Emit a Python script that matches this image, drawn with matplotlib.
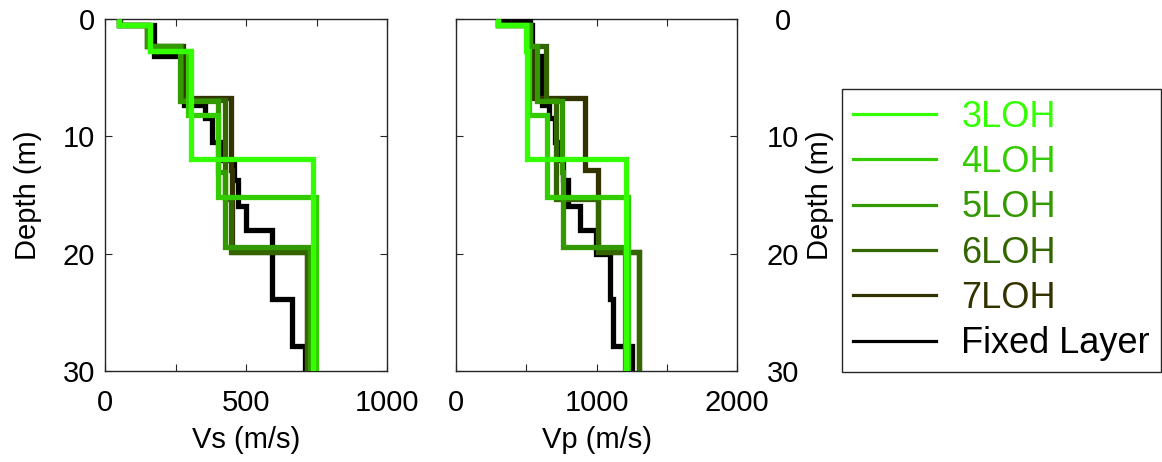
import matplotlib
matplotlib.use('Agg')
import matplotlib.pyplot as plt
from matplotlib.lines import Line2D

plt.rcParams['font.family'] = ['Liberation Sans', 'DejaVu Sans']

MAX_DEPTH = 30

names = ['3LOH', '4LOH', '5LOH', '6LOH', '7LOH', 'Fixed Layer']
colors = ['#33FF00', '#33CC00', '#339900', '#336600', '#333300', '#000000']

# interface depths (m) and layer velocities (m/s), top to bottom
z_3loh = [0.45, 2.7, 11.9]
vs_3loh = [50, 160, 306, 737]
vp_3loh = [300, 500, 505, 1207]

z_4loh = [0.45, 2.7, 8.15, 15.2]
vs_4loh = [50, 158, 293, 400, 748]
vp_4loh = [300, 505, 520, 651, 1222]

z_5loh = [0.45, 2.25, 7.0, 13.0, 19.4]
vs_5loh = [50, 150, 265, 402, 427, 728]
vp_5loh = [300, 525, 580, 755, 760, 1200]

z_6loh = [0.45, 2.25, 6.9, 15.3, 19.85]
vs_6loh = [50, 150, 270, 425, 447, 715]
vp_6loh = [300, 530, 639, 711, 1013, 1300]

z_7loh = [0.45, 2.25, 6.75, 12.9, 19.9]
vs_7loh = [50, 150, 275, 447, 452, 715]
vp_7loh = [300, 530, 545, 915, 1013, 1305]

z_fixed = [0.12, 0.45, 3.1, 7.3, 8.4, 10.5, 12.0, 13.7, 15.9, 18.0, 20.0, 23.9, 27.9]
vs_fixed = [50, 52, 175, 280, 355, 380, 420, 456, 473, 500, 591, 593, 662, 709]
vp_fixed = [327, 530, 540, 612, 662, 708, 740, 765, 795, 885, 995, 1098, 1120, 1250]

z_all = [z_3loh, z_4loh, z_5loh, z_6loh, z_7loh, z_fixed]
vs_all = [vs_3loh, vs_4loh, vs_5loh, vs_6loh, vs_7loh, vs_fixed]
vp_all = [vp_3loh, vp_4loh, vp_5loh, vp_6loh, vp_7loh, vp_fixed]

W, H = 1162, 462
fig = plt.figure(figsize=(W / 100, H / 100), dpi=100)
fig.patch.set_facecolor('white')

axL = fig.add_axes([105 / W, 1 - 370.7 / H, 282 / W, 351.4 / H])
axR = fig.add_axes([456 / W, 1 - 370.7 / H, 281 / W, 351.4 / H])

LW = 3.8
for ax, vals in ((axL, vs_all), (axR, vp_all)):
    # draw fixed layer first, 3LOH last (on top)
    for i in reversed(range(len(names))):
        edges = [0] + z_all[i] + [MAX_DEPTH]
        ax.stairs(vals[i], edges, orientation='horizontal', baseline=None,
                  edgecolor=colors[i], linewidth=LW, joinstyle='miter',
                  zorder=3 + (len(names) - i))
    ax.set_ylim(MAX_DEPTH, 0)
    for sp in ax.spines.values():
        sp.set_color('#262626')
        sp.set_linewidth(1.0)
    ax.tick_params(direction='in', top=True, right=True, left=True, bottom=True,
                   length=5, width=0.8, color='#262626', labelsize=21)
    ax.set_yticks([0, 10, 20, 30])

axL.set_xlim(0, 1000)
axL.set_xticks([0, 250, 500, 750, 1000])
axL.set_xticklabels(['0', '', '500', '', '1000'])
axL.tick_params(axis='x', pad=13.5)
axL.tick_params(axis='y', pad=7)
axL.set_yticklabels(['0', '10', '20', '30'])
axL.set_xlabel('Vs (m/s)', fontsize=21)
axL.set_ylabel('Depth (m)', fontsize=21)
axL.xaxis.set_label_coords(0.5, -0.197)
axL.xaxis.label.set_va('center')
axL.yaxis.set_label_coords(-0.273, 0.5)
axL.yaxis.label.set_va('center')

axR.set_xlim(0, 2000)
axR.set_xticks([0, 500, 1000, 1500, 2000])
axR.set_xticklabels(['0', '', '1000', '', '2000'])
axR.tick_params(axis='x', pad=13.5)
axR.tick_params(axis='y', labelleft=False, labelright=True, pad=33)
axR.set_yticklabels(['0', '10', '20', '30'])
for t in axR.yaxis.get_major_ticks():
    t.label2.set_ha('center')
axR.set_xlabel('Vp (m/s)', fontsize=21)
axR.set_ylabel('Depth (m)', fontsize=21)
axR.yaxis.set_label_position('right')
axR.xaxis.set_label_coords(0.5, -0.197)
axR.xaxis.label.set_va('center')
axR.yaxis.set_label_coords(1.297, 0.5)
axR.yaxis.label.set_va('center')
axR.yaxis.label.set_rotation(90)

handles = [Line2D([0], [0], color=c, lw=2.3) for c in colors]
leg = fig.legend(handles, names, loc='upper left',
                 bbox_to_anchor=(842 / W, 1 - 89 / H), borderaxespad=0,
                 fontsize=26, frameon=True, fancybox=False,
                 edgecolor='#262626', framealpha=1, borderpad=0.3,
                 handlelength=2.3, handletextpad=0.7, labelspacing=0.285,
                 labelcolor=colors)
leg.get_frame().set_linewidth(1.0)

fig.savefig('out.png', dpi=100, facecolor='white')
